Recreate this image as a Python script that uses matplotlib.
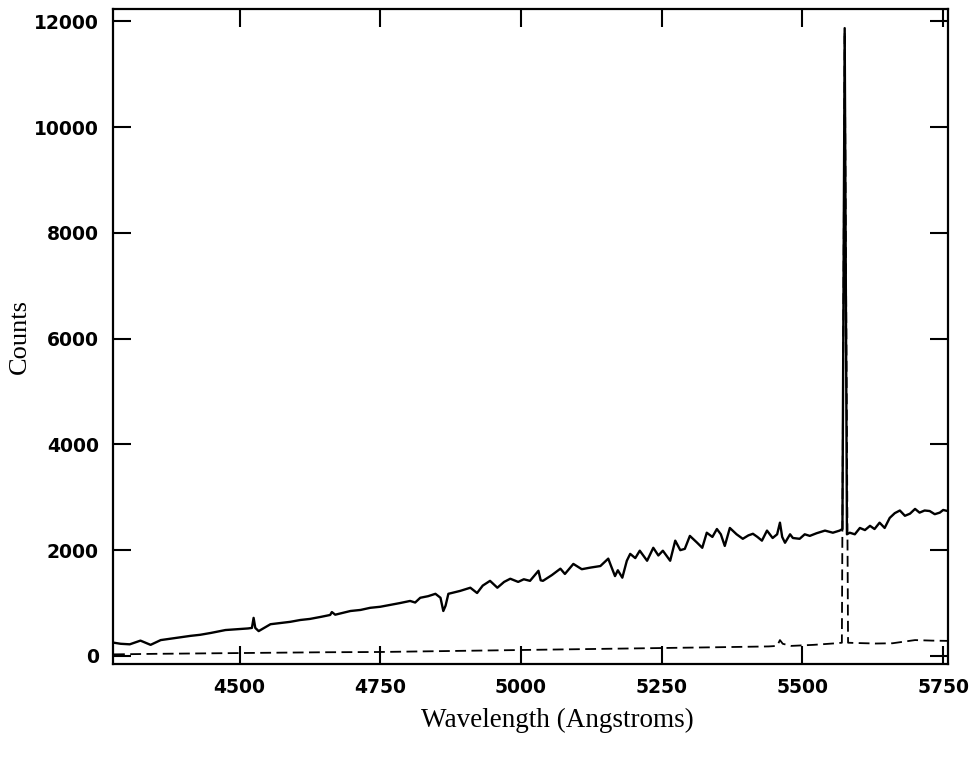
import numpy as np
import matplotlib.pyplot as plt

# object spectrum (solid)
wave_obj = [4277, 4289, 4305, 4324, 4342, 4360, 4380, 4413, 4430, 4449, 4475, 4502, 4515,
            4522, 4525, 4528, 4534, 4555, 4575, 4590, 4608, 4625, 4645, 4661, 4664, 4670,
            4697, 4715, 4732, 4750, 4768, 4785, 4803, 4812, 4821, 4835, 4848, 4857, 4862,
            4866, 4871, 4892, 4910, 4922, 4932, 4945, 4958, 4970, 4981, 4995, 5005, 5016,
            5031, 5035, 5039, 5055, 5070, 5078, 5093, 5108, 5123, 5141, 5155, 5160, 5167,
            5172, 5180, 5188, 5194, 5203, 5211, 5224, 5235, 5244, 5252, 5265, 5274, 5283,
            5291, 5300, 5312, 5322, 5330, 5340, 5348, 5355, 5362, 5371, 5383, 5394, 5404,
            5412, 5420, 5428, 5437, 5447, 5455, 5460, 5464, 5469, 5478, 5483, 5495, 5504,
            5513, 5525, 5540, 5554, 5566, 5571, 5575, 5579, 5584, 5593, 5602, 5611, 5620,
            5628, 5637, 5646, 5655, 5664, 5673, 5682, 5691, 5700, 5708, 5717, 5726, 5735,
            5744, 5750, 5758]
counts_obj = [250, 230, 220, 290, 210, 300, 330, 380, 400, 435, 490, 510, 520,
              530, 720, 530, 470, 600, 625, 645, 680, 700, 740, 775, 830, 780,
              850, 870, 910, 930, 965, 1000, 1040, 1010, 1100, 1130, 1175, 1100, 850,
              950, 1175, 1230, 1290, 1190, 1330, 1420, 1290, 1400, 1460, 1400, 1450, 1420,
              1610, 1430, 1420, 1530, 1650, 1550, 1740, 1640, 1670, 1700, 1840, 1700, 1510,
              1620, 1480, 1800, 1930, 1850, 1990, 1800, 2045, 1900, 1990, 1800, 2180, 2000,
              2025, 2270, 2150, 2045, 2330, 2250, 2400, 2300, 2080, 2420, 2300, 2215, 2280,
              2310, 2250, 2180, 2370, 2230, 2300, 2520, 2250, 2140, 2300, 2230, 2215, 2300,
              2270, 2320, 2370, 2330, 2370, 2400, 11870, 2300, 2330, 2300, 2420, 2380, 2460,
              2400, 2520, 2420, 2610, 2700, 2750, 2650, 2690, 2780, 2710, 2750, 2740, 2680,
              2710, 2760, 2740]

# sky spectrum (dashed)
wave_sky = [4277, 4350, 4450, 4550, 4650, 4750, 4850, 4950, 5050, 5150, 5250, 5350, 5440,
            5455, 5460, 5465, 5480, 5520, 5560, 5570, 5575, 5581, 5595, 5630, 5660, 5700,
            5730, 5758]
counts_sky = [30, 40, 50, 60, 70, 75, 90, 105, 120, 135, 150, 165, 180,
              190, 300, 230, 190, 210, 240, 250, 11800, 250, 245, 235, 240, 300,
              290, 285]

xticks = [4500, 4750, 5000, 5250, 5500, 5750]
yticks = [0, 2000, 4000, 6000, 8000, 10000, 12000]

fig = plt.figure(figsize=(9.73, 7.57), dpi=100)
ax = fig.add_axes([0.116, 0.123, 0.858, 0.865])

ax.plot(wave_sky, counts_sky, color='black', lw=1.3, dashes=(6, 3))
ax.plot(wave_obj, counts_obj, color='black', lw=1.7)

ax.set_xlim(4275, 5758)
ax.set_ylim(-150, 12230)
ax.set_xticks(xticks)
ax.set_yticks(yticks)
ax.tick_params(direction='in', length=13, width=1.5, top=True, right=True,
               labelsize=13.5, pad=10)
for lab in ax.get_xticklabels() + ax.get_yticklabels():
    lab.set_fontweight('bold')
for s in ax.spines.values():
    s.set_linewidth(1.6)

ax.set_xlabel('Wavelength (Angstroms)', family='Liberation Serif', fontsize=19.5, labelpad=8)
ax.xaxis.label.set_x(0.533)
ax.set_ylabel('Counts', family='Liberation Serif', fontsize=19, labelpad=2)

fig.savefig('out.png', dpi=100)
